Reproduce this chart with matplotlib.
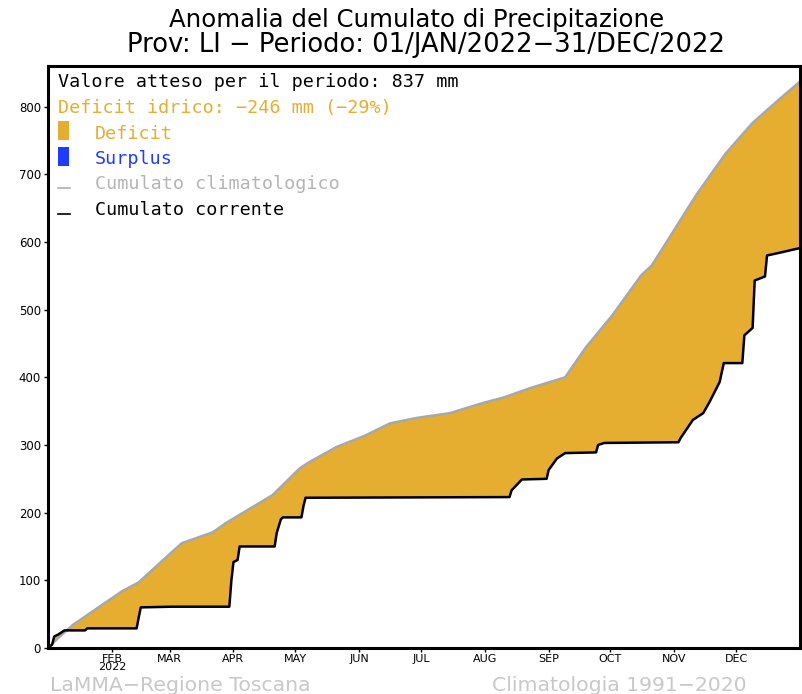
import numpy as np
import matplotlib.pyplot as plt
from matplotlib.patches import Rectangle

# cumulative precipitation (mm) vs day of year
clim_day = [0, 5, 12, 36, 44, 62, 65, 80, 86, 109, 122, 127, 140, 154, 166,
            179, 195, 211, 221, 234, 251, 261, 274, 288, 293, 298, 311, 315,
            329, 342, 355, 365]
clim_mm = [0, 15, 34, 84, 97, 147, 155, 171, 184, 226, 265, 275, 297, 314, 332,
           340, 347, 362, 370, 384, 400, 444, 492, 551, 565, 589, 652, 671,
           731, 776, 811, 837]

curr_day = [0, 2, 3, 5, 8, 18, 19, 43, 44, 45, 60, 88, 89, 90, 92, 93, 110, 111,
            113, 114, 123, 124, 125, 224, 225, 230, 242, 243, 247, 251, 266, 267,
            270, 306, 307, 313, 318, 321, 326, 328, 337, 338, 342, 343, 348, 349,
            355, 365]
curr_mm = [0, 5, 17, 20, 26, 26, 29, 29, 45, 60, 61, 61, 100, 127, 130, 150, 150, 170,
           190, 193, 193, 210, 222, 223, 233, 249, 250, 263, 280, 288, 289, 300,
           303, 304, 310, 337, 347, 363, 393, 421, 421, 462, 473, 543, 549, 580,
           584, 591]

month_day = [31, 59, 90, 120, 151, 181, 212, 243, 273, 304, 334]
month_lab = ['FEB\n2022', 'MAR', 'APR', 'MAY', 'JUN', 'JUL', 'AUG', 'SEP',
             'OCT', 'NOV', 'DEC']

orange = '#e5ae30'
blue = '#1e3cff'
grey = '#a8a8a8'
mono = 'DejaVu Sans Mono'
fs = 13.2

fig = plt.figure(figsize=(8.02, 6.94), dpi=100)
ax = fig.add_axes([0.0599, 0.0663, 0.9376, 0.8386])

# deficit area: climatological curve forward, current curve back
poly_x = list(clim_day) + list(curr_day[::-1])
poly_y = list(clim_mm) + list(curr_mm[::-1])
ax.fill(poly_x, poly_y, color=orange, lw=0)

ax.plot(clim_day, clim_mm, color=grey, lw=1.8)
ax.plot(curr_day, curr_mm, color='black', lw=1.8)

ax.set_xlim(0, 365)
ax.set_ylim(0, 860)
ax.set_yticks(range(0, 801, 100))
ax.set_xticks(month_day)
ax.set_xticklabels(month_lab, fontsize=8, linespacing=0.85)
ax.tick_params(axis='y', labelsize=8.5, length=3, width=1, pad=2)
ax.tick_params(axis='x', length=3, width=1, pad=1)
for s in ax.spines.values():
    s.set_linewidth(2.2)

# legend-like text block
ax.text(0.013, 0.972, 'Valore atteso per il periodo: 837 mm', transform=ax.transAxes,
        fontsize=fs, family=mono, va='center', color='black')
ax.text(0.013, 0.927, 'Deficit idrico: \u2212246 mm (\u221229%)', transform=ax.transAxes,
        fontsize=fs, family=mono, va='center', color=orange)
ax.add_patch(Rectangle((0.013, 0.873), 0.015, 0.032, transform=ax.transAxes,
                       color=orange, lw=0))
ax.text(0.062, 0.884, 'Deficit', transform=ax.transAxes, fontsize=fs,
        family=mono, va='center', color=orange)
ax.add_patch(Rectangle((0.013, 0.829), 0.015, 0.032, transform=ax.transAxes,
                       color=blue, lw=0))
ax.text(0.062, 0.840, 'Surplus', transform=ax.transAxes, fontsize=fs,
        family=mono, va='center', color=blue)
ax.plot([0.013, 0.029], [0.790, 0.790], transform=ax.transAxes, color='#b0b0b0', lw=1.2)
ax.text(0.062, 0.797, 'Cumulato climatologico', transform=ax.transAxes, fontsize=fs,
        family=mono, va='center', color='#b4b4b4')
ax.plot([0.013, 0.029], [0.746, 0.746], transform=ax.transAxes, color='black', lw=1.2)
ax.text(0.062, 0.753, 'Cumulato corrente', transform=ax.transAxes, fontsize=fs,
        family=mono, va='center', color='black')

fig.text(0.52, 0.971, 'Anomalia del Cumulato di Precipitazione', ha='center',
         va='center', fontsize=17.6)
fig.text(0.5306, 0.935, 'Prov: LI \u2212 Periodo: 01/JAN/2022\u221231/DEC/2022',
         ha='center', va='center', fontsize=18.6)

fig.text(0.062, 0.012, 'LaMMA\u2212Regione Toscana', fontsize=14.7, color='#c8c8c8',
         va='center')
fig.text(0.614, 0.012, 'Climatologia 1991\u22122020', fontsize=14.7, color='#c8c8c8',
         va='center')

fig.savefig('out.png', dpi=100)
